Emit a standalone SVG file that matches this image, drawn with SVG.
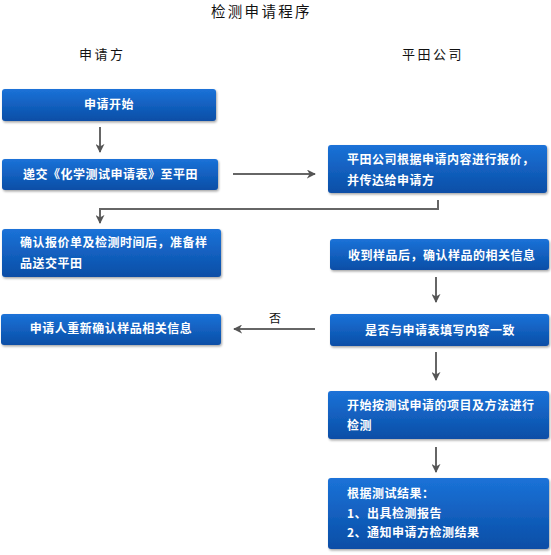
<svg xmlns="http://www.w3.org/2000/svg" width="551" height="555" viewBox="0 0 551 555">
<defs>
<linearGradient id="bg" x1="0" y1="0" x2="0" y2="1">
<stop offset="0" stop-color="#1b72d8"/>
<stop offset="1" stop-color="#0a4ea6"/>
</linearGradient>
<filter id="sh" x="-5%" y="-10%" width="110%" height="130%">
<feDropShadow dx="1" dy="1.5" stdDeviation="1" flood-color="#000" flood-opacity="0.35"/>
</filter>
<marker id="ah" viewBox="0 0 10 10" refX="9" refY="5" markerWidth="9" markerHeight="9" markerUnits="userSpaceOnUse" orient="auto">
<path d="M0,0 L10,5 L0,10 L3,5 Z" fill="#555"/>
</marker>
</defs>
<style>
.box{fill:url(#bg);filter:url(#sh)}
.t{font-family:"Noto Sans CJK SC","Noto Sans",sans-serif;font-size:12px;fill:#fff;font-weight:bold;letter-spacing:0.5px}
.h{font-family:"Noto Sans CJK SC","Noto Sans",sans-serif;fill:#111}
.c{fill:none;stroke:#666;stroke-width:2}
</style>
<text class="h" x="211" y="17" font-size="14.5" letter-spacing="2.3">检测申请程序</text>
<text class="h" x="79" y="59" font-size="13" letter-spacing="2.5">申请方</text>
<text class="h" x="402" y="59" font-size="13" letter-spacing="2.5">平田公司</text>
<g id="connectors">
<line class="c" x1="100" y1="127" x2="100" y2="152" marker-end="url(#ah)"/>
<line class="c" x1="233" y1="174" x2="315" y2="174" marker-end="url(#ah)"/>
<polyline class="c" points="438,200 438,209 100,209 100,223" marker-end="url(#ah)"/>
<line class="c" x1="436" y1="277" x2="436" y2="302" marker-end="url(#ah)"/>
<line class="c" x1="315" y1="329" x2="234" y2="329" marker-end="url(#ah)"/>
<text class="h" x="269" y="323" font-size="12">否</text>
<line class="c" x1="436" y1="352" x2="436" y2="380" marker-end="url(#ah)"/>
<line class="c" x1="436" y1="447" x2="436" y2="472" marker-end="url(#ah)"/>
</g>
<g id="n1"><rect class="box" x="2" y="89" width="214" height="32" rx="3"/><text class="t" x="109" y="109" text-anchor="middle">申请开始</text></g>
<g id="n2"><rect class="box" x="2" y="159" width="216" height="31" rx="3"/><text class="t" x="23" y="179">递交《化学测试申请表》至平田</text></g>
<g id="n3"><rect class="box" x="328" y="145" width="219" height="48" rx="3"/><text class="t" x="347" y="164">平田公司根据申请内容进行报价，</text><text class="t" x="347" y="185">并传达给申请方</text></g>
<g id="n4"><rect class="box" x="2" y="229" width="219" height="48" rx="3"/><text class="t" x="20" y="247">确认报价单及检测时间后，准备样</text><text class="t" x="20" y="268">品送交平田</text></g>
<g id="n5"><rect class="box" x="330" y="239" width="219" height="31" rx="3"/><text class="t" x="348" y="260">收到样品后，确认样品的相关信息</text></g>
<g id="n6"><rect class="box" x="1" y="314" width="220" height="31" rx="3"/><text class="t" x="111" y="333" text-anchor="middle">申请人重新确认样品相关信息</text></g>
<g id="n7"><rect class="box" x="330" y="314" width="219" height="32" rx="3"/><text class="t" x="440" y="335" text-anchor="middle">是否与申请表填写内容一致</text></g>
<g id="n8"><rect class="box" x="328" y="391" width="221" height="48" rx="3"/><text class="t" x="347" y="410">开始按测试申请的项目及方法进行</text><text class="t" x="347" y="430">检测</text></g>
<g id="n9"><rect class="box" x="328" y="478" width="221" height="71" rx="3"/><text class="t" x="347" y="498">根据测试结果：</text><text class="t" x="347" y="518">1、出具检测报告</text><text class="t" x="347" y="537">2、通知申请方检测结果</text></g>
</svg>
